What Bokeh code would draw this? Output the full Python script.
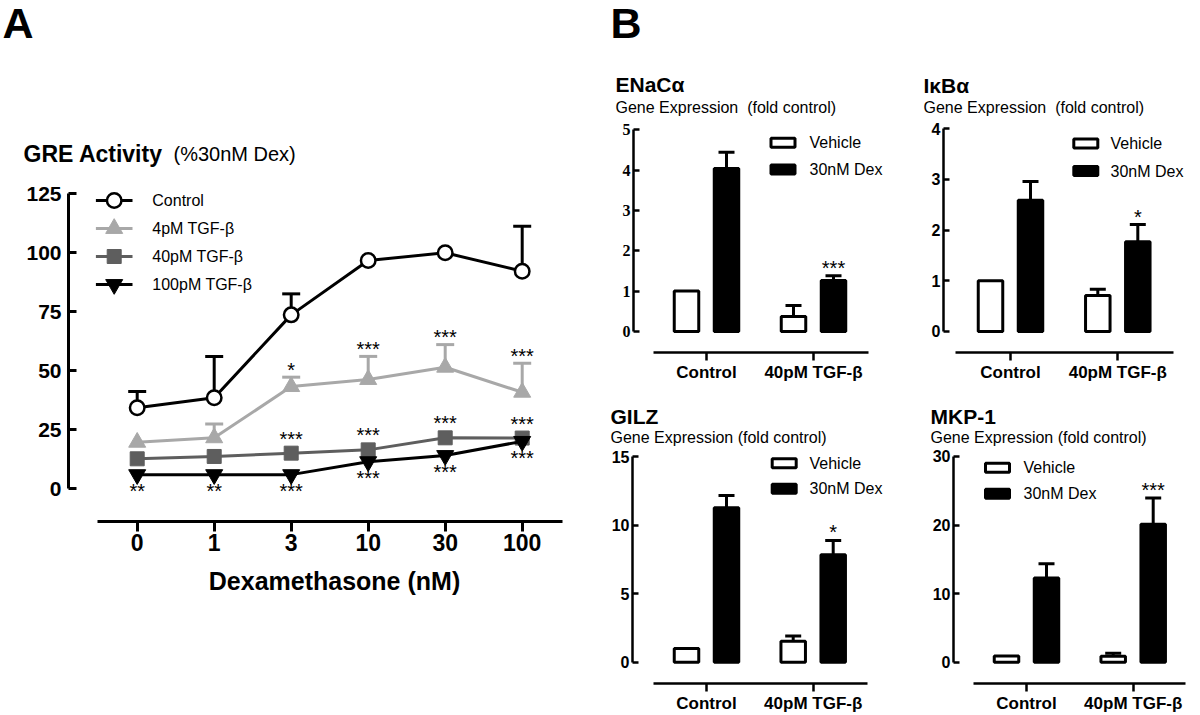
from bokeh.plotting import figure
from bokeh.layouts import row, column
from bokeh.models import Range1d, FixedTicker
from bokeh.embed import file_html
from bokeh.resources import INLINE
from bokeh.core.properties import value

SANS = "Liberation Sans"
SERIF = "Liberation Serif"

# ================= Panel A : GRE activity (% 30nM Dex) =================
doses = ["0", "1", "3", "10", "30", "100"]
series_labels = ["Control", "4pM TGF-β", "40pM TGF-β", "100pM TGF-β"]
gre_control = [34.3, 38.6, 73.7, 96.7, 100.0, 92.2]
gre_control_err = [6.9, 17.5, 8.9, 0.0, 0.0, 19.1]
gre_tgf4 = [19.7, 21.6, 43.3, 46.3, 51.5, 40.9]
gre_tgf4_err = [0.0, 5.9, 4.0, 9.8, 9.6, 12.3]
gre_tgf40 = [12.7, 13.7, 15.1, 16.5, 21.6, 21.5]
gre_tgf40_err = [0.0, 0.0, 0.0, 0.0, 0.0, 0.0]
gre_tgf100 = [6.0, 6.0, 6.0, 11.5, 14.1, 20.1]
gre_tgf100_err = [0.0, 0.0, 0.0, 0.0, 0.0, 0.0]
sig_tgf4 = ["", "", "*", "***", "***", "***"]
sig_tgf40 = ["", "", "***", "***", "***", "***"]
sig_tgf100 = ["**", "**", "***", "***", "***", "***"]
gre_yticks = [0, 25, 50, 75, 100, 125]

# ================= Panel B : gene expression (fold control) =================
groups = ["Control", "40pM TGF-β"]
treatments = ["Vehicle", "30nM Dex"]

enac_vehicle = [1.00, 0.37]
enac_vehicle_err = [0.00, 0.27]
enac_dex = [4.04, 1.26]
enac_dex_err = [0.40, 0.12]
enac_sig = ["", "***"]
enac_yticks = [0, 1, 2, 3, 4, 5]

ikba_vehicle = [1.00, 0.71]
ikba_vehicle_err = [0.00, 0.12]
ikba_dex = [2.59, 1.77]
ikba_dex_err = [0.37, 0.34]
ikba_sig = ["", "*"]
ikba_yticks = [0, 1, 2, 3, 4]

gilz_vehicle = [1.00, 1.52]
gilz_vehicle_err = [0.00, 0.40]
gilz_dex = [11.27, 7.84]
gilz_dex_err = [0.89, 1.04]
gilz_sig = ["", "*"]
gilz_yticks = [0, 5, 10, 15]

mkp_vehicle = [0.90, 0.85]
mkp_vehicle_err = [0.00, 0.45]
mkp_dex = [12.28, 20.11]
mkp_dex_err = [2.07, 3.84]
mkp_sig = ["", "***"]
mkp_yticks = [0, 10, 20, 30]


# ---------------- helpers ----------------
def px2x(g, px):
    return (px - g["x0"]) / g["xppu"]


def px2y(g, py):
    return (g["y0"] - py) / g["yppu"]


def make_fig(g):
    ox, oy = g["origin"]
    W, H = g["size"]
    L, R, T, B = g["frame"]
    bl = int(round(L - ox))
    br = int(round(ox + W - R))
    bt = int(round(T - oy))
    bb = int(round(oy + H - B))
    fl, fr, ft, fb = ox + bl, ox + W - br, oy + bt, oy + H - bb
    p = figure(width=W, height=H, output_backend="svg", toolbar_location=None, title=None,
               x_range=Range1d(px2x(g, fl), px2x(g, fr)),
               y_range=Range1d(px2y(g, fb), px2y(g, ft)),
               min_border_left=bl, min_border_right=br,
               min_border_top=bt, min_border_bottom=bb)
    p.xgrid.visible = False
    p.ygrid.visible = False
    p.outline_line_color = None
    p.background_fill_color = "white"
    p.border_fill_color = "white"
    return p


def header_fig(origin, size, texts):
    ox, oy = origin
    W, H = size
    p = figure(width=W, height=H, output_backend="svg", toolbar_location=None, title=None,
               x_range=Range1d(0, W), y_range=Range1d(H, 0),
               x_axis_location=None, y_axis_location=None,
               min_border_left=0, min_border_right=0, min_border_top=0, min_border_bottom=0)
    p.xgrid.visible = False
    p.ygrid.visible = False
    p.outline_line_color = None
    for px, py, text, fsize, bold in texts:
        p.text(x=[px - ox], y=[py - oy], text=[text], text_font=value(SANS),
               text_font_size=f"{fsize}px", text_font_style="bold" if bold else "normal",
               text_align="left", text_baseline="middle", text_color="black")
    return p


def style_axis(ax, lw, tick_in, tick_out, font, size, standoff):
    ax.axis_line_width = lw
    ax.axis_line_color = "black"
    ax.major_tick_line_width = lw
    ax.major_tick_line_color = "black"
    ax.major_tick_in = tick_in
    ax.major_tick_out = tick_out
    ax.minor_tick_line_color = None
    ax.major_label_text_font = font
    ax.major_label_text_font_size = size
    ax.major_label_text_font_style = "bold"
    ax.major_label_text_color = "black"
    ax.major_label_standoff = standoff


def err_bars(p, g, xs, vals, errs, color, cap_px, lw):
    keep = [(x, v, e) for x, v, e in zip(xs, vals, errs) if e > 0]
    if not keep:
        return
    half = cap_px / 2.0 / g["xppu"]
    x = [k[0] for k in keep]
    y0 = [k[1] for k in keep]
    y1 = [k[1] + k[2] for k in keep]
    p.segment(x0=x, y0=y0, x1=x, y1=y1, line_color=color, line_width=lw)
    p.segment(x0=[xi - half for xi in x], y0=y1, x1=[xi + half for xi in x], y1=y1,
              line_color=color, line_width=lw)


def sig_text(p, xs, ys, labels, size="20px"):
    keep = [(x, y, s) for x, y, s in zip(xs, ys, labels) if s]
    if not keep:
        return
    p.text(x=[k[0] for k in keep], y=[k[1] for k in keep], text=[k[2] for k in keep],
           text_font=value(SANS), text_font_size=size, text_align="center",
           text_baseline="middle", text_color="black")


# ================= Panel A =================
hA = header_fig((0, 0), (600, 170), [
    (2, 22, "A", 43, True),
    (23, 153.5, "GRE Activity", 23, True),
    (173, 153.5, "(%30nM Dex)", 20, False),
])

GA = dict(origin=(0, 170), size=(600, 545), frame=(68, 600, 170, 521),
          x0=136.7, xppu=77.0, y0=488.3, yppu=2.36)
pA = make_fig(GA)
xs = list(range(len(doses)))

series_vals = [gre_control, gre_tgf4, gre_tgf40, gre_tgf100]
series_errs = [gre_control_err, gre_tgf4_err, gre_tgf40_err, gre_tgf100_err]
styles = [
    dict(marker="circle", size=14.5, fill="white", color="black", lw=2.5),
    dict(marker="triangle", size=17, fill="#a8a8a8", color="#a8a8a8", lw=1),
    dict(marker="square", size=14, fill="#5e5e5e", color="#5e5e5e", lw=1),
    dict(marker="inverted_triangle", size=17, fill="black", color="black", lw=1),
]
# legend geometry (pixels)
LEG_LINE = (95.4, 132.0)
LEG_ROW0, LEG_PITCH, LEG_TEXT_X = 200.0, 28.0, 151.8

for i, (name, vals, errs, st) in enumerate(zip(series_labels, series_vals, series_errs, styles)):
    err_bars(pA, GA, xs, vals, errs, st["color"], 18, 3)
    pA.line(xs, vals, line_color=st["color"], line_width=3)
    pA.scatter(xs, vals, marker=st["marker"], size=st["size"], fill_color=st["fill"],
               line_color=st["color"], line_width=st["lw"])
    # legend entry
    ly = px2y(GA, LEG_ROW0 + LEG_PITCH * i)
    pA.segment(x0=[px2x(GA, LEG_LINE[0])], y0=[ly], x1=[px2x(GA, LEG_LINE[1])], y1=[ly],
               line_color=st["color"], line_width=3)
    pA.scatter([px2x(GA, (LEG_LINE[0] + LEG_LINE[1]) / 2)], [ly], marker=st["marker"],
               size=st["size"], fill_color=st["fill"], line_color=st["color"],
               line_width=st["lw"])
    pA.text(x=[px2x(GA, LEG_TEXT_X)], y=[ly], text=[name], text_font=value(SANS),
            text_font_size="16px", text_align="left", text_baseline="middle",
            text_color="black")

k = GA["yppu"]
sig_text(pA, xs, [v + e + 7.5 / k for v, e in zip(gre_tgf4, gre_tgf4_err)], sig_tgf4)
sig_text(pA, xs, [v + 14.5 / k for v in gre_tgf40], sig_tgf40)
sig_text(pA, xs, [v - 16.2 / k for v in gre_tgf100], sig_tgf100)

ax = pA.xaxis[0]
ax.ticker = FixedTicker(ticks=xs)
ax.major_label_overrides = {i: d for i, d in enumerate(doses)}
ax.bounds = (px2x(GA, 97.3), px2x(GA, 561.7))
style_axis(ax, 3, 0, 10, SANS, "23px", 2)
ax.axis_label = "Dexamethasone (nM)"
ax.axis_label_text_font = SANS
ax.axis_label_text_font_size = "25px"
ax.axis_label_text_font_style = "bold"
ax.axis_label_text_color = "black"
ax.axis_label_standoff = 13

ay = pA.yaxis[0]
ay.ticker = FixedTicker(ticks=gre_yticks)
ay.bounds = (gre_yticks[0], gre_yticks[-1])
style_axis(ay, 3, 8, 0, SANS, "21px", 7)

# ================= Panel B =================
SUB_WIDE = "Gene Expression \u00a0(fold control)"
SUB = "Gene Expression (fold control)"
panels = [
    dict(name="ENaCα", sub=SUB_WIDE,
         veh=enac_vehicle, veh_err=enac_vehicle_err, dex=enac_dex, dex_err=enac_dex_err,
         sig=enac_sig, yticks=enac_yticks, yfont=SERIF,
         origin=(600, 118), size=(300, 266), frame=(633.3, 900, 118, 354),
         x0=706, xppu=107.0, y0=332.7, yppu=40.68, xb=(653, 868),
         leg_box_x=782.5, leg_rows=(142.5, 169.5), leg_text_x=809),
    dict(name="IκBα", sub=SUB_WIDE,
         veh=ikba_vehicle, veh_err=ikba_vehicle_err, dex=ikba_dex, dex_err=ikba_dex_err,
         sig=ikba_sig, yticks=ikba_yticks, yfont=SANS,
         origin=(900, 118), size=(300, 266), frame=(942.7, 1200, 118, 354),
         x0=1010, xppu=107.3, y0=332.7, yppu=51.1, xb=(955, 1173),
         leg_box_x=1085.3, leg_rows=(143.3, 171.0), leg_text_x=1110),
    dict(name="GILZ", sub=SUB,
         veh=gilz_vehicle, veh_err=gilz_vehicle_err, dex=gilz_dex, dex_err=gilz_dex_err,
         sig=gilz_sig, yticks=gilz_yticks, yfont=SANS,
         origin=(600, 446), size=(300, 269), frame=(631.7, 900, 446, 683.3),
         x0=706, xppu=106.7, y0=661.7, yppu=13.71, xb=(652.7, 866.7),
         leg_box_x=783.7, leg_rows=(462.7, 488.3), leg_text_x=809),
    dict(name="MKP-1", sub=SUB,
         veh=mkp_vehicle, veh_err=mkp_vehicle_err, dex=mkp_dex, dex_err=mkp_dex_err,
         sig=mkp_sig, yticks=mkp_yticks, yfont=SANS,
         origin=(900, 446), size=(300, 269), frame=(953.3, 1200, 446, 683.3),
         x0=1026, xppu=106.7, y0=661.7, yppu=6.857, xb=(972.7, 1185),
         leg_box_x=997.0, leg_rows=(467.3, 493.3), leg_text_x=1023),
]


def bar_panel(g):
    p = make_fig(g)
    gx = list(range(len(groups)))
    off = 20.0 / g["xppu"]
    wd = 24.5 / g["xppu"]
    xv = [x - off for x in gx]
    xd = [x + off for x in gx]
    p.vbar(x=xv, top=g["veh"], bottom=0, width=wd, fill_color="white",
           line_color="black", line_width=3)
    p.vbar(x=xd, top=g["dex"], bottom=0, width=wd, fill_color="black",
           line_color="black", line_width=3)
    err_bars(p, g, xv, g["veh"], g["veh_err"], "black", 16, 3)
    err_bars(p, g, xd, g["dex"], g["dex_err"], "black", 16, 3)
    sig_text(p, xd, [v + e + 8.0 / g["yppu"] for v, e in zip(g["dex"], g["dex_err"])],
             g["sig"])

    # legend
    fills = ["white", "black"]
    for lab, fill, ry in zip(treatments, fills, g["leg_rows"]):
        p.rect(x=[px2x(g, g["leg_box_x"])], y=[px2y(g, ry)], width=24, height=9,
               width_units="screen", height_units="screen", fill_color=fill,
               line_color="black", line_width=3)
        p.text(x=[px2x(g, g["leg_text_x"])], y=[px2y(g, ry)], text=[lab],
               text_font=value(SANS), text_font_size="16px", text_align="left",
               text_baseline="middle", text_color="black")

    ax = p.xaxis[0]
    ax.ticker = FixedTicker(ticks=gx)
    ax.major_label_overrides = {i: s for i, s in enumerate(groups)}
    ax.bounds = (px2x(g, g["xb"][0]), px2x(g, g["xb"][1]))
    style_axis(ax, 2.5, 0, 8, SANS, "17px", 2)

    ay = p.yaxis[0]
    ay.ticker = FixedTicker(ticks=g["yticks"])
    ay.bounds = (g["yticks"][0], g["yticks"][-1])
    style_axis(ay, 2.5, 6, 0, g["yfont"], "16px", 3)
    return p


charts = [bar_panel(g) for g in panels]

hE = header_fig((600, 0), (300, 118), [
    (610, 22, "B", 43, True),
    (615, 84, panels[0]["name"], 21, True),
    (615, 106.5, panels[0]["sub"], 16, False),
])
hI = header_fig((900, 0), (300, 118), [
    (923, 85, panels[1]["name"], 21, True),
    (923, 106.5, panels[1]["sub"], 16, False),
])
hG = header_fig((600, 384), (300, 62), [
    (610, 415.5, panels[2]["name"], 21, True),
    (610, 436.5, panels[2]["sub"], 16, False),
])
hM = header_fig((900, 384), (300, 62), [
    (930, 415.5, panels[3]["name"], 21, True),
    (930, 436.5, panels[3]["sub"], 16, False),
])

left_col = column(row(hA), row(pA))
right_col = column(row(hE, hI), row(charts[0], charts[1]), row(hG, hM),
                   row(charts[2], charts[3]))
layout = row(left_col, right_col)
html = file_html(layout, INLINE, title="GRE activity and gene expression")
open("out.html", "w").write(html)
